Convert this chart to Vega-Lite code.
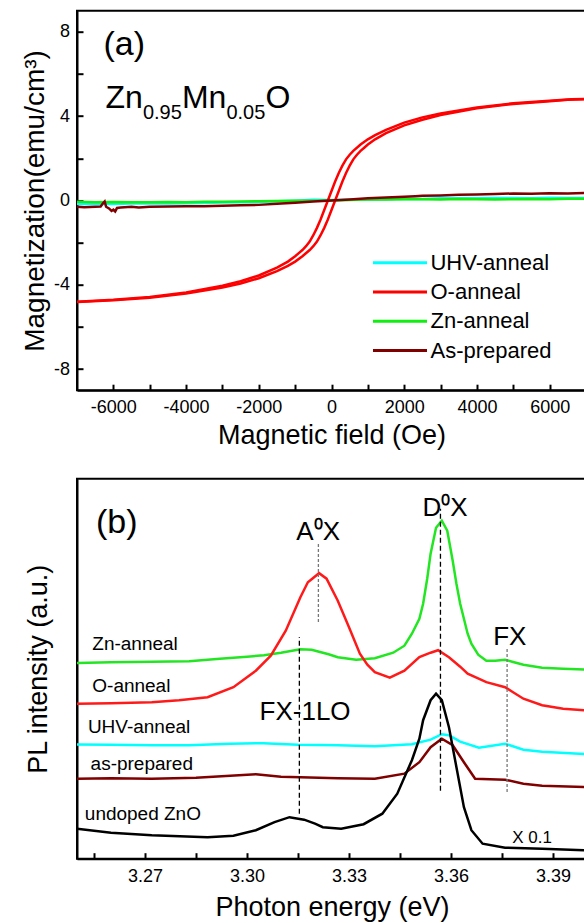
{
  "$schema": "https://vega.github.io/schema/vega-lite/v6.json",
  "background": "white",
  "padding": {"left": 20, "top": 9.7, "right": 0, "bottom": 0},
  "bounds": "flush",
  "spacing": 88,
  "config": {
    "font": "Liberation Sans",
    "view": {"stroke": "black", "strokeWidth": 2},
    "axis": {"domainColor": "black", "domainWidth": 2, "grid": false,
      "labelFont": "Liberation Sans", "titleFont": "Liberation Sans", "labelColor": "black", "titleColor": "black",
      "titleFontWeight": "normal", "labelFontSize": 18, "titleFontSize": 27, "labelOverlap": false, "labelFlush": false}
  },
  "resolve": {"scale": {"color": "independent"}, "legend": {"color": "independent"}},
  "vconcat": [
    {
      "width": 509,
      "height": 379.5,
      "encoding": {
        "x": {"field": "H", "type": "quantitative", "scale": {"domain": [-7000, 7000], "nice": false, "zero": false},
          "axis": {"title": "Magnetic field (Oe)", "values": [-6000,-5000,-4000,-3000,-2000,-1000,0,1000,2000,3000,4000,5000,6000],
            "labelExpr": "datum.value % 2000 === 0 ? '' + datum.value : ''", "ticks": true, "tickSize": -6, "tickColor": "black", "tickWidth": 2,
            "labelPadding": 14.5, "titlePadding": 6}},
        "y": {"field": "M", "type": "quantitative", "scale": {"domain": [-9, 9], "nice": false, "zero": false},
          "axis": {"title": "Magnetization(emu/cm³)", "values": [-8,-6,-4,-2,0,2,4,6,8],
            "labelExpr": "datum.value % 4 === 0 ? '' + datum.value : ''", "ticks": true, "tickSize": -6, "tickColor": "black", "tickWidth": 2,
            "labelPadding": 13.5, "titlePadding": 4, "titleFontSize": 28}}
      },
      "layer": [
        {
          "data": {"values": [
            {"s":"UHV-anneal","b":"1","H":-7000,"M":-0.17},{"s":"UHV-anneal","b":"1","H":-6500,"M":-0.16},{"s":"UHV-anneal","b":"1","H":-6000,"M":-0.17},{"s":"UHV-anneal","b":"1","H":-5500,"M":-0.15},{"s":"UHV-anneal","b":"1","H":-5000,"M":-0.15},{"s":"UHV-anneal","b":"1","H":-4500,"M":-0.14},{"s":"UHV-anneal","b":"1","H":-4000,"M":-0.13},{"s":"UHV-anneal","b":"1","H":-3500,"M":-0.12},{"s":"UHV-anneal","b":"1","H":-3000,"M":-0.1},{"s":"UHV-anneal","b":"1","H":-2500,"M":-0.09},{"s":"UHV-anneal","b":"1","H":-2000,"M":-0.07},{"s":"UHV-anneal","b":"1","H":-1500,"M":-0.04},{"s":"UHV-anneal","b":"1","H":-1000,"M":-0.01},{"s":"UHV-anneal","b":"1","H":-500,"M":0.03},{"s":"UHV-anneal","b":"1","H":0,"M":0.02},{"s":"UHV-anneal","b":"1","H":500,"M":0.03},{"s":"UHV-anneal","b":"1","H":1000,"M":0.05},{"s":"UHV-anneal","b":"1","H":1500,"M":0.06},{"s":"UHV-anneal","b":"1","H":2000,"M":0.08},{"s":"UHV-anneal","b":"1","H":2500,"M":0.07},{"s":"UHV-anneal","b":"1","H":3000,"M":0.1},{"s":"UHV-anneal","b":"1","H":3500,"M":0.11},{"s":"UHV-anneal","b":"1","H":4000,"M":0.1},{"s":"UHV-anneal","b":"1","H":4500,"M":0.12},{"s":"UHV-anneal","b":"1","H":5000,"M":0.12},{"s":"UHV-anneal","b":"1","H":5500,"M":0.11},{"s":"UHV-anneal","b":"1","H":6000,"M":0.13},{"s":"UHV-anneal","b":"1","H":6500,"M":0.12},{"s":"UHV-anneal","b":"1","H":7000,"M":0.12},
            {"s":"Zn-anneal","b":"1","H":-7000,"M":-0.06},{"s":"Zn-anneal","b":"1","H":-6500,"M":-0.08},{"s":"Zn-anneal","b":"1","H":-6000,"M":-0.07},{"s":"Zn-anneal","b":"1","H":-5500,"M":-0.09},{"s":"Zn-anneal","b":"1","H":-5000,"M":-0.08},{"s":"Zn-anneal","b":"1","H":-4500,"M":-0.07},{"s":"Zn-anneal","b":"1","H":-4000,"M":-0.08},{"s":"Zn-anneal","b":"1","H":-3500,"M":-0.06},{"s":"Zn-anneal","b":"1","H":-3000,"M":-0.06},{"s":"Zn-anneal","b":"1","H":-2500,"M":-0.05},{"s":"Zn-anneal","b":"1","H":-2000,"M":-0.04},{"s":"Zn-anneal","b":"1","H":-1500,"M":-0.03},{"s":"Zn-anneal","b":"1","H":-1000,"M":-0.02},{"s":"Zn-anneal","b":"1","H":-500,"M":-0.01},{"s":"Zn-anneal","b":"1","H":0,"M":0.0},{"s":"Zn-anneal","b":"1","H":500,"M":0.02},{"s":"Zn-anneal","b":"1","H":1000,"M":0.04},{"s":"Zn-anneal","b":"1","H":1500,"M":0.05},{"s":"Zn-anneal","b":"1","H":2000,"M":0.06},{"s":"Zn-anneal","b":"1","H":2500,"M":0.06},{"s":"Zn-anneal","b":"1","H":3000,"M":0.05},{"s":"Zn-anneal","b":"1","H":3500,"M":0.07},{"s":"Zn-anneal","b":"1","H":4000,"M":0.06},{"s":"Zn-anneal","b":"1","H":4500,"M":0.05},{"s":"Zn-anneal","b":"1","H":5000,"M":0.06},{"s":"Zn-anneal","b":"1","H":5500,"M":0.07},{"s":"Zn-anneal","b":"1","H":6000,"M":0.06},{"s":"Zn-anneal","b":"1","H":6500,"M":0.08},{"s":"Zn-anneal","b":"1","H":7000,"M":0.08},
            {"s":"O-anneal","b":"up","H":-7000,"M":-4.82},{"s":"O-anneal","b":"up","H":-6000,"M":-4.73},{"s":"O-anneal","b":"up","H":-5000,"M":-4.61},{"s":"O-anneal","b":"up","H":-4000,"M":-4.41},{"s":"O-anneal","b":"up","H":-3000,"M":-4.13},{"s":"O-anneal","b":"up","H":-2500,"M":-3.94},{"s":"O-anneal","b":"up","H":-2000,"M":-3.69},{"s":"O-anneal","b":"up","H":-1500,"M":-3.35},{"s":"O-anneal","b":"up","H":-1200,"M":-3.1},{"s":"O-anneal","b":"up","H":-1000,"M":-2.9},{"s":"O-anneal","b":"up","H":-800,"M":-2.65},{"s":"O-anneal","b":"up","H":-600,"M":-2.35},{"s":"O-anneal","b":"up","H":-500,"M":-2.17},{"s":"O-anneal","b":"up","H":-400,"M":-1.95},{"s":"O-anneal","b":"up","H":-300,"M":-1.65},{"s":"O-anneal","b":"up","H":-200,"M":-1.3},{"s":"O-anneal","b":"up","H":-100,"M":-0.9},{"s":"O-anneal","b":"up","H":0,"M":-0.45},{"s":"O-anneal","b":"up","H":100,"M":0.0},{"s":"O-anneal","b":"up","H":200,"M":0.45},{"s":"O-anneal","b":"up","H":300,"M":0.9},{"s":"O-anneal","b":"up","H":400,"M":1.3},{"s":"O-anneal","b":"up","H":500,"M":1.65},{"s":"O-anneal","b":"up","H":600,"M":1.95},{"s":"O-anneal","b":"up","H":700,"M":2.17},{"s":"O-anneal","b":"up","H":800,"M":2.35},{"s":"O-anneal","b":"up","H":900,"M":2.5},{"s":"O-anneal","b":"up","H":1000,"M":2.65},{"s":"O-anneal","b":"up","H":1200,"M":2.9},{"s":"O-anneal","b":"up","H":1500,"M":3.19},{"s":"O-anneal","b":"up","H":2000,"M":3.56},{"s":"O-anneal","b":"up","H":2500,"M":3.83},{"s":"O-anneal","b":"up","H":3000,"M":4.05},{"s":"O-anneal","b":"up","H":4000,"M":4.37},{"s":"O-anneal","b":"up","H":5000,"M":4.58},{"s":"O-anneal","b":"up","H":6000,"M":4.71},{"s":"O-anneal","b":"up","H":6500,"M":4.78},{"s":"O-anneal","b":"up","H":7000,"M":4.8},
            {"s":"O-anneal","b":"down","H":7000,"M":4.82},{"s":"O-anneal","b":"down","H":6600,"M":4.8},{"s":"O-anneal","b":"down","H":6000,"M":4.73},{"s":"O-anneal","b":"down","H":5000,"M":4.61},{"s":"O-anneal","b":"down","H":4000,"M":4.41},{"s":"O-anneal","b":"down","H":3000,"M":4.13},{"s":"O-anneal","b":"down","H":2500,"M":3.94},{"s":"O-anneal","b":"down","H":2000,"M":3.69},{"s":"O-anneal","b":"down","H":1500,"M":3.35},{"s":"O-anneal","b":"down","H":1200,"M":3.1},{"s":"O-anneal","b":"down","H":1000,"M":2.9},{"s":"O-anneal","b":"down","H":800,"M":2.65},{"s":"O-anneal","b":"down","H":600,"M":2.35},{"s":"O-anneal","b":"down","H":500,"M":2.17},{"s":"O-anneal","b":"down","H":400,"M":1.95},{"s":"O-anneal","b":"down","H":300,"M":1.65},{"s":"O-anneal","b":"down","H":200,"M":1.3},{"s":"O-anneal","b":"down","H":100,"M":0.9},{"s":"O-anneal","b":"down","H":0,"M":0.45},{"s":"O-anneal","b":"down","H":-100,"M":0.0},{"s":"O-anneal","b":"down","H":-200,"M":-0.45},{"s":"O-anneal","b":"down","H":-300,"M":-0.9},{"s":"O-anneal","b":"down","H":-400,"M":-1.3},{"s":"O-anneal","b":"down","H":-500,"M":-1.65},{"s":"O-anneal","b":"down","H":-600,"M":-1.95},{"s":"O-anneal","b":"down","H":-700,"M":-2.17},{"s":"O-anneal","b":"down","H":-800,"M":-2.35},{"s":"O-anneal","b":"down","H":-900,"M":-2.5},{"s":"O-anneal","b":"down","H":-1000,"M":-2.65},{"s":"O-anneal","b":"down","H":-1200,"M":-2.9},{"s":"O-anneal","b":"down","H":-1500,"M":-3.19},{"s":"O-anneal","b":"down","H":-2000,"M":-3.56},{"s":"O-anneal","b":"down","H":-2500,"M":-3.83},{"s":"O-anneal","b":"down","H":-3000,"M":-4.05},{"s":"O-anneal","b":"down","H":-4000,"M":-4.37},{"s":"O-anneal","b":"down","H":-5000,"M":-4.58},{"s":"O-anneal","b":"down","H":-6000,"M":-4.71},{"s":"O-anneal","b":"down","H":-7000,"M":-4.8},
            {"s":"As-prepared","b":"1","H":-7000,"M":-0.3},{"s":"As-prepared","b":"1","H":-6800,"M":-0.32},{"s":"As-prepared","b":"1","H":-6500,"M":-0.3},{"s":"As-prepared","b":"1","H":-6350,"M":-0.29},{"s":"As-prepared","b":"1","H":-6280,"M":-0.12},{"s":"As-prepared","b":"1","H":-6240,"M":-0.05},{"s":"As-prepared","b":"1","H":-6200,"M":-0.3},{"s":"As-prepared","b":"1","H":-6120,"M":-0.38},{"s":"As-prepared","b":"1","H":-6050,"M":-0.5},{"s":"As-prepared","b":"1","H":-6000,"M":-0.44},{"s":"As-prepared","b":"1","H":-5950,"M":-0.52},{"s":"As-prepared","b":"1","H":-5900,"M":-0.36},{"s":"As-prepared","b":"1","H":-5800,"M":-0.34},{"s":"As-prepared","b":"1","H":-5500,"M":-0.3},{"s":"As-prepared","b":"1","H":-5300,"M":-0.33},{"s":"As-prepared","b":"1","H":-5000,"M":-0.3},{"s":"As-prepared","b":"1","H":-4500,"M":-0.29},{"s":"As-prepared","b":"1","H":-4000,"M":-0.28},{"s":"As-prepared","b":"1","H":-3500,"M":-0.27},{"s":"As-prepared","b":"1","H":-3000,"M":-0.25},{"s":"As-prepared","b":"1","H":-2500,"M":-0.23},{"s":"As-prepared","b":"1","H":-2000,"M":-0.21},{"s":"As-prepared","b":"1","H":-1500,"M":-0.16},{"s":"As-prepared","b":"1","H":-1000,"M":-0.11},{"s":"As-prepared","b":"1","H":-500,"M":-0.05},{"s":"As-prepared","b":"1","H":0,"M":0.0},{"s":"As-prepared","b":"1","H":500,"M":0.05},{"s":"As-prepared","b":"1","H":1000,"M":0.1},{"s":"As-prepared","b":"1","H":1500,"M":0.14},{"s":"As-prepared","b":"1","H":2000,"M":0.18},{"s":"As-prepared","b":"1","H":2300,"M":0.2},{"s":"As-prepared","b":"1","H":2500,"M":0.22},{"s":"As-prepared","b":"1","H":3000,"M":0.24},{"s":"As-prepared","b":"1","H":3500,"M":0.27},{"s":"As-prepared","b":"1","H":4000,"M":0.28},{"s":"As-prepared","b":"1","H":4500,"M":0.3},{"s":"As-prepared","b":"1","H":5000,"M":0.33},{"s":"As-prepared","b":"1","H":5500,"M":0.32},{"s":"As-prepared","b":"1","H":6000,"M":0.34},{"s":"As-prepared","b":"1","H":6500,"M":0.33},{"s":"As-prepared","b":"1","H":7000,"M":0.35}
          ]},
          "mark": {"type": "line", "strokeWidth": 2.5, "clip": true},
          "encoding": {
            "color": {"field": "s", "type": "nominal",
              "scale": {"domain": ["UHV-anneal", "O-anneal", "Zn-anneal", "As-prepared"], "range": ["#00ffff", "#ff0000", "#11ee11", "#800000"]},
              "legend": {"orient": "none", "legendX": 308, "legendY": 237, "title": null, "symbolType": "M-2,0H2", "symbolSize": 729,
                "symbolStrokeWidth": 3, "labelFontSize": 22, "labelFont": "Liberation Sans", "labelColor": "black", "labelOffset": 15.5,
                "rowPadding": 3.3, "padding": 0, "labelLimit": 300}},
            "detail": {"field": "b"}
          }
        },
        {
          "data": {"values": [{"H": -6270, "M": 6.9, "t": "(a)"}]},
          "mark": {"type": "text", "align": "left", "baseline": "alphabetic", "fontSize": 34, "color": "black", "font": "Liberation Sans"},
          "encoding": {"text": {"field": "t"}}
        },
        {
          "data": {"values": [{"H": -6214, "M": 4.37, "t": "Zn"}, {"H": -4114, "M": 4.37, "t": "Mn"}, {"H": -1818, "M": 4.37, "t": "O"}]},
          "mark": {"type": "text", "align": "left", "baseline": "alphabetic", "fontSize": 32, "color": "black", "font": "Liberation Sans"},
          "encoding": {"text": {"field": "t"}}
        },
        {
          "data": {"values": [{"H": -5186, "M": 3.87, "t": "0.95"}, {"H": -2890, "M": 3.87, "t": "0.05"}]},
          "mark": {"type": "text", "align": "left", "baseline": "alphabetic", "fontSize": 20, "color": "black", "font": "Liberation Sans"},
          "encoding": {"text": {"field": "t"}}
        }
      ]
    },
    {
      "width": 510,
      "height": 380,
      "encoding": {
        "x": {"field": "E", "type": "quantitative", "scale": {"domain": [3.25, 3.4], "nice": false, "zero": false},
          "axis": {"title": "Photon energy (eV)", "values": [3.255,3.27,3.285,3.3,3.315,3.33,3.345,3.36,3.375,3.39],
            "labelExpr": "abs(datum.value*100 - round(datum.value*100)) < 0.01 ? format(datum.value, '.2f') : ''", "ticks": true, "tickSize": -6, "tickColor": "black", "tickWidth": 2,
            "labelPadding": 14.5, "titlePadding": 9}},
        "y": {"field": "I", "type": "quantitative", "scale": {"domain": [0, 380], "nice": false, "zero": false},
          "axis": {"title": "PL intensity (a.u.)", "labels": false, "ticks": false, "titlePadding": 25}}
      },
      "layer": [
        {
          "data": {"values": [
            {"s":"Zn-anneal","E":3.25,"I":195.6},{"s":"Zn-anneal","E":3.26,"I":196.5},{"s":"Zn-anneal","E":3.272,"I":197},{"s":"Zn-anneal","E":3.283,"I":197.5},{"s":"Zn-anneal","E":3.292,"I":200},{"s":"Zn-anneal","E":3.3,"I":202},{"s":"Zn-anneal","E":3.305,"I":203.5},{"s":"Zn-anneal","E":3.31,"I":206},{"s":"Zn-anneal","E":3.3157,"I":209.5},{"s":"Zn-anneal","E":3.319,"I":209},{"s":"Zn-anneal","E":3.3212,"I":207},{"s":"Zn-anneal","E":3.324,"I":204.5},{"s":"Zn-anneal","E":3.3267,"I":201.5},{"s":"Zn-anneal","E":3.3321,"I":199},{"s":"Zn-anneal","E":3.3376,"I":200.5},{"s":"Zn-anneal","E":3.343,"I":206},{"s":"Zn-anneal","E":3.3463,"I":213},{"s":"Zn-anneal","E":3.3485,"I":225},{"s":"Zn-anneal","E":3.3507,"I":240},{"s":"Zn-anneal","E":3.3518,"I":255},{"s":"Zn-anneal","E":3.353,"I":280},{"s":"Zn-anneal","E":3.354,"I":305},{"s":"Zn-anneal","E":3.3556,"I":331},{"s":"Zn-anneal","E":3.3573,"I":338},{"s":"Zn-anneal","E":3.3589,"I":328},{"s":"Zn-anneal","E":3.3605,"I":298},{"s":"Zn-anneal","E":3.3616,"I":275},{"s":"Zn-anneal","E":3.3627,"I":255},{"s":"Zn-anneal","E":3.3649,"I":225},{"s":"Zn-anneal","E":3.366,"I":215},{"s":"Zn-anneal","E":3.368,"I":204},{"s":"Zn-anneal","E":3.3704,"I":198},{"s":"Zn-anneal","E":3.373,"I":198},{"s":"Zn-anneal","E":3.3759,"I":199},{"s":"Zn-anneal","E":3.378,"I":197},{"s":"Zn-anneal","E":3.3813,"I":194},{"s":"Zn-anneal","E":3.3868,"I":191},{"s":"Zn-anneal","E":3.393,"I":190},{"s":"Zn-anneal","E":3.4,"I":189},
            {"s":"O-anneal","E":3.25,"I":155},{"s":"O-anneal","E":3.26,"I":155.5},{"s":"O-anneal","E":3.272,"I":156.5},{"s":"O-anneal","E":3.28,"I":158.5},{"s":"O-anneal","E":3.2884,"I":161.5},{"s":"O-anneal","E":3.296,"I":171.5},{"s":"O-anneal","E":3.3026,"I":188},{"s":"O-anneal","E":3.307,"I":203},{"s":"O-anneal","E":3.3114,"I":228},{"s":"O-anneal","E":3.3157,"I":261.5},{"s":"O-anneal","E":3.3179,"I":276.5},{"s":"O-anneal","E":3.3212,"I":285.5},{"s":"O-anneal","E":3.3234,"I":280},{"s":"O-anneal","E":3.3267,"I":258},{"s":"O-anneal","E":3.33,"I":231.5},{"s":"O-anneal","E":3.3332,"I":205},{"s":"O-anneal","E":3.3354,"I":194},{"s":"O-anneal","E":3.3376,"I":186.5},{"s":"O-anneal","E":3.342,"I":181},{"s":"O-anneal","E":3.3463,"I":188},{"s":"O-anneal","E":3.3507,"I":201.5},{"s":"O-anneal","E":3.354,"I":206},{"s":"O-anneal","E":3.3562,"I":208.5},{"s":"O-anneal","E":3.3594,"I":201.5},{"s":"O-anneal","E":3.3627,"I":192},{"s":"O-anneal","E":3.3649,"I":185},{"s":"O-anneal","E":3.3704,"I":176.5},{"s":"O-anneal","E":3.3759,"I":171.5},{"s":"O-anneal","E":3.3785,"I":166},{"s":"O-anneal","E":3.3813,"I":160},{"s":"O-anneal","E":3.3868,"I":153.5},{"s":"O-anneal","E":3.393,"I":150},{"s":"O-anneal","E":3.4,"I":148.3},
            {"s":"UHV-anneal","E":3.25,"I":114.3},{"s":"UHV-anneal","E":3.26,"I":114},{"s":"UHV-anneal","E":3.272,"I":113.5},{"s":"UHV-anneal","E":3.283,"I":113.5},{"s":"UHV-anneal","E":3.295,"I":115},{"s":"UHV-anneal","E":3.3048,"I":115.5},{"s":"UHV-anneal","E":3.315,"I":114},{"s":"UHV-anneal","E":3.3267,"I":113.5},{"s":"UHV-anneal","E":3.3376,"I":112.5},{"s":"UHV-anneal","E":3.3485,"I":114.5},{"s":"UHV-anneal","E":3.354,"I":119},{"s":"UHV-anneal","E":3.3573,"I":124.5},{"s":"UHV-anneal","E":3.3594,"I":123.5},{"s":"UHV-anneal","E":3.3627,"I":117},{"s":"UHV-anneal","E":3.3682,"I":111},{"s":"UHV-anneal","E":3.3759,"I":115},{"s":"UHV-anneal","E":3.3813,"I":109},{"s":"UHV-anneal","E":3.3868,"I":107},{"s":"UHV-anneal","E":3.4,"I":104.5},
            {"s":"as-prepared","E":3.25,"I":80},{"s":"as-prepared","E":3.26,"I":80.5},{"s":"as-prepared","E":3.272,"I":80},{"s":"as-prepared","E":3.285,"I":81},{"s":"as-prepared","E":3.3026,"I":84.5},{"s":"as-prepared","E":3.31,"I":82},{"s":"as-prepared","E":3.3157,"I":81.5},{"s":"as-prepared","E":3.3267,"I":80.5},{"s":"as-prepared","E":3.3376,"I":80},{"s":"as-prepared","E":3.3463,"I":85},{"s":"as-prepared","E":3.3507,"I":96.5},{"s":"as-prepared","E":3.354,"I":111.5},{"s":"as-prepared","E":3.3573,"I":120},{"s":"as-prepared","E":3.3605,"I":113.5},{"s":"as-prepared","E":3.3638,"I":96.5},{"s":"as-prepared","E":3.3671,"I":80},{"s":"as-prepared","E":3.3759,"I":79},{"s":"as-prepared","E":3.3813,"I":75},{"s":"as-prepared","E":3.3868,"I":73},{"s":"as-prepared","E":3.4,"I":71.6},
            {"s":"undoped ZnO","E":3.25,"I":30},{"s":"undoped ZnO","E":3.26,"I":26},{"s":"undoped ZnO","E":3.272,"I":23.5},{"s":"undoped ZnO","E":3.2884,"I":21.5},{"s":"undoped ZnO","E":3.296,"I":23},{"s":"undoped ZnO","E":3.3026,"I":28.5},{"s":"undoped ZnO","E":3.3081,"I":36.5},{"s":"undoped ZnO","E":3.3125,"I":41.5},{"s":"undoped ZnO","E":3.3168,"I":39},{"s":"undoped ZnO","E":3.32,"I":35},{"s":"undoped ZnO","E":3.3223,"I":31.5},{"s":"undoped ZnO","E":3.3277,"I":30},{"s":"undoped ZnO","E":3.3343,"I":34.5},{"s":"undoped ZnO","E":3.3398,"I":45},{"s":"undoped ZnO","E":3.3442,"I":65},{"s":"undoped ZnO","E":3.3485,"I":98.5},{"s":"undoped ZnO","E":3.3507,"I":120},{"s":"undoped ZnO","E":3.3518,"I":138.5},{"s":"undoped ZnO","E":3.354,"I":158.5},{"s":"undoped ZnO","E":3.3556,"I":165},{"s":"undoped ZnO","E":3.3573,"I":158.5},{"s":"undoped ZnO","E":3.3594,"I":131.5},{"s":"undoped ZnO","E":3.3616,"I":91.5},{"s":"undoped ZnO","E":3.3638,"I":51.5},{"s":"undoped ZnO","E":3.366,"I":28.5},{"s":"undoped ZnO","E":3.3693,"I":15},{"s":"undoped ZnO","E":3.3759,"I":11},{"s":"undoped ZnO","E":3.3868,"I":10},{"s":"undoped ZnO","E":3.4,"I":8.3}
          ]},
          "mark": {"type": "line", "strokeWidth": 2.5, "clip": true},
          "encoding": {
            "color": {"field": "s", "type": "nominal",
              "scale": {"domain": ["Zn-anneal", "O-anneal", "UHV-anneal", "as-prepared", "undoped ZnO"], "range": ["#22e622", "#ff1a1a", "#00ffff", "#800000", "#000000"]},
              "legend": null}
          }
        },
        {
          "data": {"values": [
            {"E": 3.321, "I": 236.6, "I2": 316.6, "line": "A0X"},
            {"E": 3.3569, "I": 68, "I2": 350, "line": "D0X"},
            {"E": 3.3765, "I": 66.6, "I2": 211.6, "line": "FX"},
            {"E": 3.3154, "I": 45, "I2": 221.6, "line": "FX-1LO"}
          ]},
          "mark": {"type": "rule", "strokeWidth": 1.3},
          "encoding": {
            "y2": {"field": "I2"},
            "color": {"condition": {"test": "datum.line === 'A0X' || datum.line === 'FX'", "value": "#777777"}, "value": "#000000"},
            "strokeDash": {"condition": {"test": "datum.line === 'A0X' || datum.line === 'FX'", "value": [3, 2]}, "value": [5, 3]}
          }
        },
        {
          "data": {"values": [
            {"E": 3.2545, "I": 209, "t": "Zn-anneal"},
            {"E": 3.2545, "I": 167, "t": "O-anneal"},
            {"E": 3.2532, "I": 125.6, "t": "UHV-anneal"},
            {"E": 3.254, "I": 89, "t": "as-prepared"},
            {"E": 3.2523, "I": 39, "t": "undoped ZnO"}
          ]},
          "mark": {"type": "text", "align": "left", "baseline": "alphabetic", "fontSize": 19, "color": "black", "font": "Liberation Sans"},
          "encoding": {"text": {"field": "t"}}
        },
        {
          "data": {"values": [
            {"E": 3.3145, "I": 319, "t": "A⁰X"},
            {"E": 3.3516, "I": 343, "t": "D⁰X"},
            {"E": 3.3724, "I": 214, "t": "FX"},
            {"E": 3.3037, "I": 139, "t": "FX-1LO"}
          ]},
          "mark": {"type": "text", "align": "left", "baseline": "alphabetic", "fontSize": 26, "color": "black", "font": "Liberation Sans"},
          "encoding": {"text": {"field": "t"}}
        },
        {
          "data": {"values": [{"E": 3.378, "I": 16, "t": "X 0.1"}]},
          "mark": {"type": "text", "align": "left", "baseline": "alphabetic", "fontSize": 17, "color": "black", "font": "Liberation Sans"},
          "encoding": {"text": {"field": "t"}}
        },
        {
          "data": {"values": [{"E": 3.2556, "I": 325.5, "t": "(b)"}]},
          "mark": {"type": "text", "align": "left", "baseline": "alphabetic", "fontSize": 34, "color": "black", "font": "Liberation Sans"},
          "encoding": {"text": {"field": "t"}}
        }
      ]
    }
  ]
}
